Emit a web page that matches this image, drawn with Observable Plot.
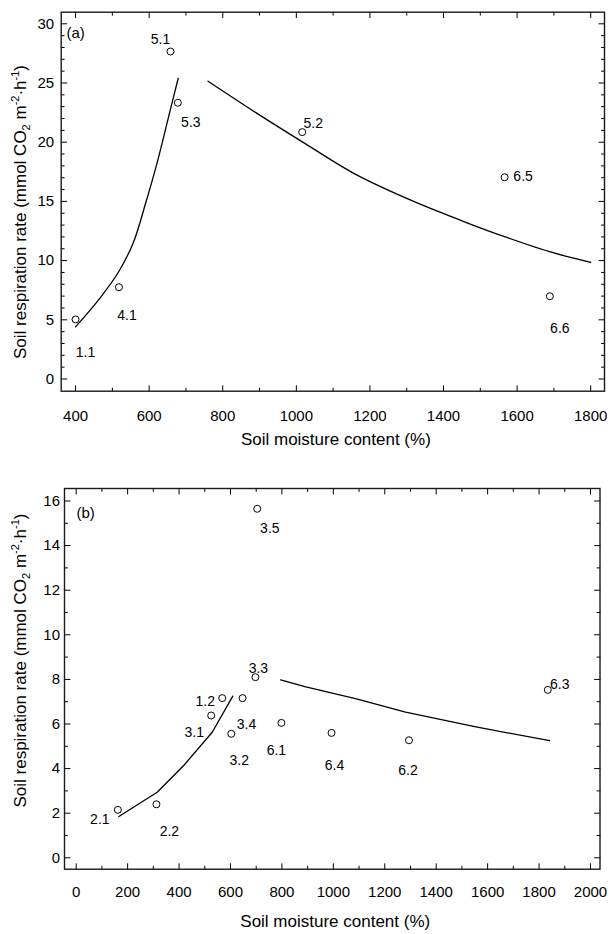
<!DOCTYPE html>
<html><head><meta charset="utf-8">
<script src="https://cdn.jsdelivr.net/npm/d3@7"></script>
<script src="https://cdn.jsdelivr.net/npm/@observablehq/plot@0.6"></script>
<style>
html,body{margin:0;padding:0;background:#fff;}
#chart svg{display:block;}
</style></head><body><div id="chart"></div>
<script>
// ---------- Panel (a) data ----------
const aIds = ["1.1","4.1","5.1","5.3","5.2","6.5","6.6"];
const aMoisture = [400, 518, 658, 678, 1016, 1566, 1689];
const aRespiration = [5.03, 7.75, 27.66, 23.33, 20.85, 17.04, 6.99];
const aFitRiseX = [400, 468, 518, 558, 590, 622, 658, 679];
const aFitRiseY = [4.4, 6.9, 9.1, 11.6, 14.8, 18.3, 22.8, 25.4];
const aFitFallX = [760, 890, 1023, 1160, 1311, 1455, 1568, 1700, 1800];
const aFitFallY = [25.15, 22.5, 19.9, 17.3, 15.1, 13.3, 12.0, 10.65, 9.86];
const aXTicks = [400, 600, 800, 1000, 1200, 1400, 1600, 1800];
const aXMinor = [500, 700, 900, 1100, 1300, 1500, 1700];
const aYTicks = [0, 5, 10, 15, 20, 25, 30];
const aYMinor = [1,2,3,4,6,7,8,9,11,12,13,14,16,17,18,19,21,22,23,24,26,27,28,29];

// ---------- Panel (b) data ----------
const bIds = ["2.1","2.2","3.1","1.2","3.2","3.4","3.3","3.5","6.1","6.4","6.2","6.3"];
const bMoisture = [162, 312, 525, 568, 603, 647, 697, 704, 798, 993, 1294, 1834];
const bRespiration = [2.15, 2.40, 6.38, 7.16, 5.56, 7.16, 8.10, 15.65, 6.05, 5.60, 5.27, 7.53];
const bFitRiseX = [166, 315, 418, 529, 609];
const bFitRiseY = [1.85, 2.94, 4.14, 5.63, 7.25];
const bFitFallX = [795, 889, 1086, 1281, 1550, 1841];
const bFitFallY = [7.98, 7.68, 7.14, 6.53, 5.88, 5.25];
const bXTicks = [0, 200, 400, 600, 800, 1000, 1200, 1400, 1600, 1800, 2000];
const bXMinor = [100, 300, 500, 700, 900, 1100, 1300, 1500, 1700, 1900];
const bYTicks = [0, 2, 4, 6, 8, 10, 12, 14, 16];
const bYMinor = [1, 3, 5, 7, 9, 11, 13, 15];

// ---------- text ----------
const xTitle = "Soil moisture content (%)";
const yTitle = "Soil respiration rate (mmol CO2 m-2·h-1)";

// ---------- layout (label placement in px) ----------
const aLabelDx = [10, 8, -10, 13, 11, 18.5, 10];
const aLabelDy = [33, 28, -12, 20, -9, -1, 32];
const bLabelDx = [-18, 13, -17, -17, 8, 4, 3, 12.6, -5, 3, -1, 12];
const bLabelDy = [10, 27, 17, 3, 27, 26, -9, 20, 28, 33, 30, -5];

const FONT = "'Liberation Sans', Arial, Helvetica, sans-serif";

// straight tick shape for vector marks
const tickShape = {draw(context, l) { context.moveTo(0, 0); context.lineTo(0, -l); }};

function inwardTicks(xt, xm, yt, ym) {
  const common = {shape: tickShape, anchor: "start", stroke: "black", strokeWidth: 1};
  const M = 5.5, m = 3;
  return [
    Plot.vectorX(xt, {x: d => d, frameAnchor: "bottom", rotate: 0, length: M, ...common}),
    Plot.vectorX(xm, {x: d => d, frameAnchor: "bottom", rotate: 0, length: m, ...common}),
    Plot.vectorX(xt, {x: d => d, frameAnchor: "top", rotate: 180, length: M, ...common}),
    Plot.vectorX(xm, {x: d => d, frameAnchor: "top", rotate: 180, length: m, ...common}),
    Plot.vectorY(yt, {y: d => d, frameAnchor: "left", rotate: 90, length: M, ...common}),
    Plot.vectorY(ym, {y: d => d, frameAnchor: "left", rotate: 90, length: m, ...common}),
    Plot.vectorY(yt, {y: d => d, frameAnchor: "right", rotate: -90, length: M, ...common}),
    Plot.vectorY(ym, {y: d => d, frameAnchor: "right", rotate: -90, length: m, ...common})
  ];
}

function panel(o) {
  const pts = o.ids.map((id, i) => ({id, x: o.mx[i], y: o.my[i]}));
  const rise = o.riseX.map((x, i) => ({x, y: o.riseY[i]}));
  const fall = o.fallX.map((x, i) => ({x, y: o.fallY[i]}));
  const labels = pts.map((p, i) => Plot.text([p], {
    x: "x", y: "y", text: "id", dx: o.ldx[i], dy: o.ldy[i],
    fontSize: 14, fill: "black", textAnchor: "middle", lineAnchor: "middle"
  }));
  return Plot.plot({
    width: 610, height: o.height,
    marginTop: o.mt, marginBottom: o.mb, marginLeft: o.ml, marginRight: o.mr,
    style: {fontFamily: FONT, fontSize: "15px", color: "black", background: "white", overflow: "visible"},
    x: {type: "linear", domain: o.xDomain},
    y: {type: "linear", domain: o.yDomain},
    marks: [
      Plot.axisX({anchor: "bottom", ticks: o.xTicks, tickSize: 0, tickPadding: o.xPad, tickFormat: d => String(d), fontSize: 15, label: null}),
      Plot.axisY({anchor: "left", ticks: o.yTicks, tickSize: 0, tickPadding: o.yPad, tickFormat: d => String(d), fontSize: 15, label: null}),
      ...inwardTicks(o.xTicks, o.xMinor, o.yTicks, o.yMinor),
      Plot.frame({stroke: "#1a1a1a", strokeWidth: 1.4}),
      Plot.line(rise, {x: "x", y: "y", stroke: "black", strokeWidth: 1.3, curve: o.curve}),
      Plot.line(fall, {x: "x", y: "y", stroke: "black", strokeWidth: 1.3, curve: o.curve}),
      Plot.dot(pts, {x: "x", y: "y", r: 3.5, stroke: "black", fill: "white", strokeWidth: 1}),
      ...labels,
      Plot.text([o.panelLabel], {text: d => d, frameAnchor: "top-left", dx: o.plDx, dy: o.plDy, textAnchor: "start", lineAnchor: "middle", fontSize: 15, fill: "black"}),
      Plot.text([xTitle], {text: d => d, frameAnchor: "bottom", dx: o.xtDx, dy: o.xtDy, textAnchor: "middle", lineAnchor: "middle", fontSize: 17, fill: "black"}),
      Plot.text([yTitle], {text: d => d, frameAnchor: "left", dx: o.ytDx, dy: o.ytDy, rotate: -90, textAnchor: "middle", lineAnchor: "middle", fontSize: 17, fill: "black"})
    ]
  });
}

function richTitle(svg) {
  const parts = [
    ["Soil respiration rate (mmol CO", 0, null],
    ["2", 4, 11],
    [" m", -4, null],
    ["-2", -6.5, 11],
    ["·h", 6.5, null],
    ["-1", -6.5, 11],
    [")", 6.5, null]
  ];
  for (const t of svg.querySelectorAll("text")) {
    if (t.textContent === yTitle) {
      t.textContent = "";
      for (const [s, dy, fs] of parts) {
        const ts = document.createElementNS("http://www.w3.org/2000/svg", "tspan");
        ts.textContent = s;
        if (dy) ts.setAttribute("dy", dy);
        if (fs) ts.setAttribute("font-size", fs);
        t.appendChild(ts);
      }
    }
  }
}

const chartA = panel({
  ids: aIds, mx: aMoisture, my: aRespiration,
  riseX: aFitRiseX, riseY: aFitRiseY, fallX: aFitFallX, fallY: aFitFallY,
  xTicks: aXTicks, xMinor: aXMinor, yTicks: aYTicks, yMinor: aYMinor,
  ldx: aLabelDx, ldy: aLabelDy, curve: "catmull-rom",
  height: 450, mt: 11.7, mb: 59.3, ml: 60.7, mr: 6,
  xDomain: [361, 1837.5], yDomain: [-1.03, 30.98],
  xPad: 18.7, yPad: 7,
  panelLabel: "(a)", plDx: 5.3, plDy: 21.3,
  xtDx: 3, xtDy: 48.8, ytDx: -40.7, ytDy: 10.3
});
const chartB = panel({
  ids: bIds, mx: bMoisture, my: bRespiration,
  riseX: bFitRiseX, riseY: bFitRiseY, fallX: bFitFallX, fallY: bFitFallY,
  xTicks: bXTicks, xMinor: bXMinor, yTicks: bYTicks, yMinor: bYMinor,
  ldx: bLabelDx, ldy: bLabelDy, curve: "linear",
  height: 484, mt: 38, mb: 65.3, ml: 64, mr: 10.5,
  xDomain: [-45.5, 2037], yDomain: [-0.511, 16.56],
  xPad: 17.3, yPad: 4.5,
  panelLabel: "(b)", plDx: 12, plDy: 25,
  xtDx: 3, xtDy: 52.8, ytDx: -44, ytDy: -18.3
});
richTitle(chartA);
richTitle(chartB);
document.getElementById("chart").append(chartA, chartB);
</script></body></html>
